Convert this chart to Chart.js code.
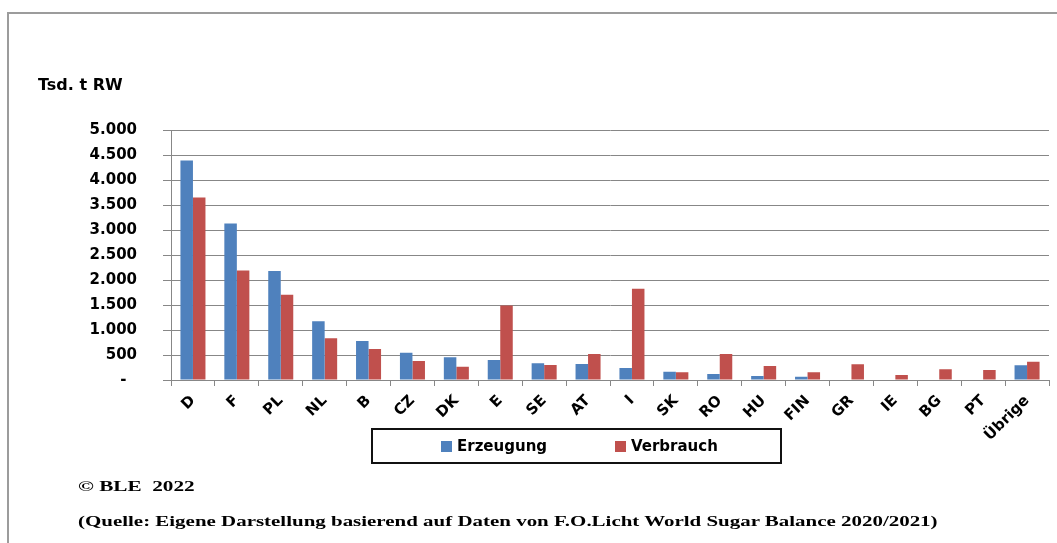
<!DOCTYPE html>
<html lang="de">
<head>
<meta charset="utf-8">
<title>Zuckererzeugung und -verbrauch in der EU</title>
<script src="https://cdn.jsdelivr.net/npm/chart.js@4.4.1/dist/chart.umd.min.js"></script>
<style>
  html, body { margin: 0; padding: 0; background: #fff; }
  #page { position: relative; width: 1057px; height: 543px; overflow: hidden; }
  #frame { position: absolute; left: 7px; top: 12px; width: 1100px; height: 600px;
           border-top: 2px solid #9c9c9c; border-left: 2px solid #9c9c9c; }
  #chart { position: absolute; left: 0; top: 0; }
  .unit { position: absolute; left: 38px; top: 75px; font: bold 16px "DejaVu Sans", sans-serif; color: #000; }
  #legend { position: absolute; left: 371px; top: 428px; width: 407px; height: 32px;
            border: 2px solid #111; font: bold 15px "DejaVu Sans", sans-serif; }
  #legend .item { position: absolute; top: 7px; white-space: nowrap; }
  #legend .swatch { display: inline-block; width: 11px; height: 11px; margin-right: 5px; vertical-align: -1px; }
  .foot { position: absolute; left: 78px; font: bold 15px "Liberation Serif", "Times New Roman", serif;
          white-space: nowrap; transform-origin: left center; }
</style>
</head>
<body>
<div id="page">
  <div id="frame"></div>
  <canvas id="chart" width="1057" height="543"></canvas>
  <div class="unit">Tsd. t RW</div>
  <div id="legend"></div>
  <div class="foot" id="copy" style="top:478px" data-w="116">© BLE&nbsp; 2022</div>
  <div class="foot" id="source" style="top:513px" data-w="860">(Quelle: Eigene Darstellung basierend auf Daten von F.O.Licht World Sugar Balance 2020/2021)</div>
</div>
<script>
// Länder (Reihenfolge wie im Diagramm)
const countries = ['D', 'F', 'PL', 'NL', 'B', 'CZ', 'DK', 'E', 'SE', 'AT', 'I', 'SK', 'RO', 'HU', 'FIN', 'GR', 'IE', 'BG', 'PT', 'Übrige'];

// Werte in Tsd. t Rohwert
const erzeugung = [4390, 3130, 2180, 1175, 780, 545, 455, 400, 335, 320, 240, 165, 120, 80, 65, 0, 0, 0, 0, 295];
const verbrauch = [3650, 2190, 1705, 835, 620, 380, 265, 1490, 300, 520, 1825, 155, 520, 280, 155, 315, 100, 215, 200, 365];

const seriesNames = ['Erzeugung', 'Verbrauch'];
const seriesColors = ['#4F81BD', '#C0504D'];

const gridColor = '#878787';
const labelFont = { family: 'DejaVu Sans', size: 15, weight: 'bold' };

// y-Achse: 0 wird als "-" angezeigt, sonst mit Tausenderpunkt
const formatTick = v => v === 0 ? '-  ' : v.toLocaleString('de-DE');

const chart = new Chart(document.getElementById('chart'), {
  type: 'bar',
  data: {
    labels: countries,
    datasets: [
      { label: seriesNames[0], data: erzeugung, backgroundColor: seriesColors[0] },
      { label: seriesNames[1], data: verbrauch, backgroundColor: seriesColors[1] }
    ]
  },
  options: {
    responsive: false,
    animation: false,
    layout: { padding: { top: 130, right: 8, left: 0, bottom: 0 } },
    datasets: { bar: { categoryPercentage: 0.57, barPercentage: 1.0, borderWidth: 0 } },
    plugins: { legend: { display: false }, tooltip: { enabled: false } },
    scales: {
      x: {
        offset: true,
        grid: { offset: true, drawOnChartArea: false, color: gridColor, tickLength: 6 },
        border: { color: gridColor, width: 1 },
        ticks: { color: '#000', font: labelFont, maxRotation: 45, minRotation: 45, padding: 6 },
        afterFit: scale => { scale.height = 163; }
      },
      y: {
        min: 0,
        max: 5000,
        grid: { color: gridColor, tickLength: 8 },
        border: { color: gridColor, width: 1 },
        ticks: { stepSize: 500, color: '#000', font: labelFont, padding: 26, callback: formatTick },
        afterFit: scale => { scale.width = 171; }
      }
    }
  }
});

// Legende aus den Datensätzen aufbauen
const legend = document.getElementById('legend');
const legendPos = [68, 242];
chart.data.datasets.forEach((ds, i) => {
  const item = document.createElement('div');
  item.className = 'item';
  item.style.left = legendPos[i] + 'px';
  item.innerHTML = '<span class="swatch" style="background:' + ds.backgroundColor + '"></span>' + ds.label;
  legend.appendChild(item);
});

// Fußzeilen in der Breite strecken
document.querySelectorAll('.foot').forEach(el => {
  const target = Number(el.dataset.w);
  el.style.transform = 'scaleX(' + (target / el.offsetWidth).toFixed(3) + ')';
});
</script>
</body>
</html>
